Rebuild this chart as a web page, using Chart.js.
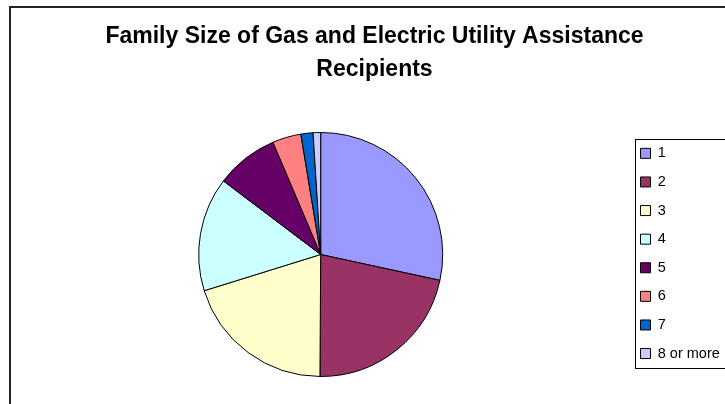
<!DOCTYPE html>
<html>
<head>
<meta charset="utf-8">
<script src="https://cdn.jsdelivr.net/npm/chart.js@4.4.1/dist/chart.umd.min.js"></script>
<style>
    html, body { margin: 0; padding: 0; background: #fff; overflow: hidden; }
    #Frame { position: absolute; left: 9px; top: 6px; width: 760px; height: 440px; border: 2px solid #222; }
    #ChartCanvas { position: absolute; left: 0; top: 0; }
</style>
</head>
<body>
<div id="Frame"><canvas id="ChartCanvas" width="727" height="400"></canvas></div>
<script>
// Family size categories and their share of recipients (percent)
const familySizes = ['1', '2', '3', '4', '5', '6', '7', '8 or more'];
const recipientShares = [28.4, 21.7, 20.1, 15.1, 8.3, 3.8, 1.6, 1.0];
const sliceColors = ['#9999FF', '#993366', '#FFFFCC', '#CCFFFF', '#660066', '#FF8080', '#0066CC', '#CCCCFF'];
const chartTitle = ['Family Size of Gas and Electric Utility Assistance', 'Recipients'];

Initialize();

function Initialize()
{
    const fontFamily = '"Liberation Sans", Arial, Helvetica, sans-serif';

    // Give the legend a fixed width so the pie sits where it should
    const legendWidthPlugin = {
        id: 'legendWidth',
        afterInit(chart) {
            const originalFit = chart.legend.fit;
            chart.legend.fit = function() {
                originalFit.call(this);
                this.width = 107.6;
            };
        }
    };

    // Thin frame round the legend entries
    const legendBoxPlugin = {
        id: 'legendBox',
        afterDraw(chart) {
            const boxes = chart.legend.legendHitBoxes;
            if (!boxes || !boxes.length) return;
            const first = boxes[0];
            const last = boxes[boxes.length - 1];
            const ctx = chart.ctx;
            const x = Math.round(first.left - 5.5) + 0.5;
            const y = Math.round(first.top - 7.5) + 0.5;
            const bottom = Math.round(last.top + last.height + 7.5) + 0.5;
            ctx.save();
            ctx.strokeStyle = '#000';
            ctx.lineWidth = 1;
            ctx.strokeRect(x, y, chart.legend.right - 2 - x, bottom - y);
            ctx.restore();
        }
    };

    const ctx = document.getElementById('ChartCanvas').getContext('2d');
    const chart = new Chart(ctx,
        {
        type: 'pie',
        data: {
            labels: familySizes,
            datasets: [{
                data: recipientShares,
                backgroundColor: sliceColors,
                borderColor: '#000',
                borderWidth: 1
            }]
        },
        options: {
            responsive: false,
            animation: false,
            layout: {
                padding: { left: 4, right: 4, top: 0, bottom: 31 }
            },
            plugins: {
                title: {
                    display: true,
                    text: chartTitle,
                    color: '#000',
                    font: { family: fontFamily, size: 23, weight: 'bold', lineHeight: 1.448 },
                    padding: { top: 12, bottom: 45.4 }
                },
                legend: {
                    position: 'right',
                    align: 'start',
                    fullSize: false,
                    labels: {
                        boxWidth: 10,
                        boxHeight: 10,
                        padding: 14.1,
                        color: '#000',
                        font: { family: fontFamily, size: 14.5 }
                    }
                },
                tooltip: { enabled: false }
            }
        },
        plugins: [legendWidthPlugin, legendBoxPlugin]
    });
}
</script>
</body>
</html>
